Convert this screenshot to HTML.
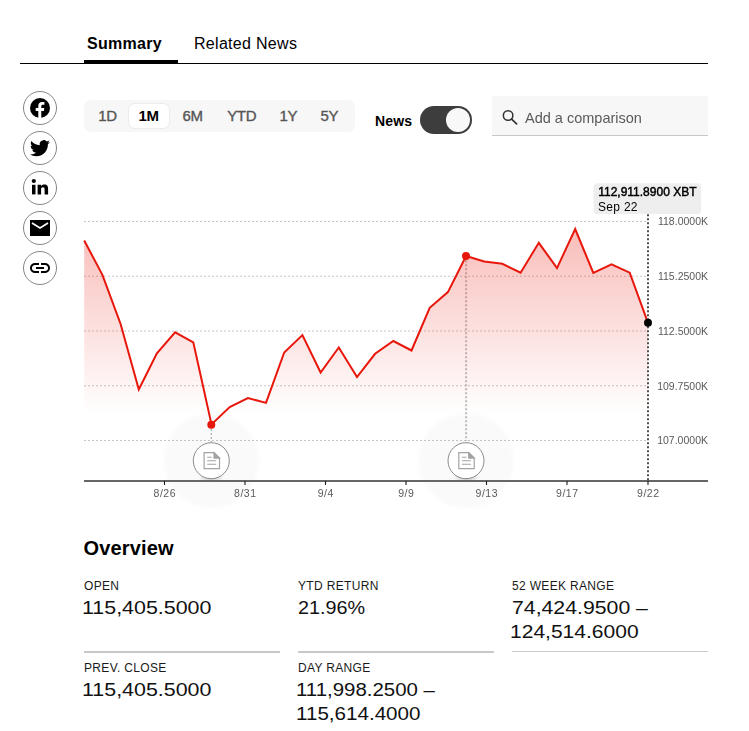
<!DOCTYPE html>
<html lang="en"><head><meta charset="utf-8"><title>XBT Summary</title>
<style>
html,body{margin:0;padding:0;background:#fff}
body{width:749px;height:731px;position:relative;overflow:hidden;font-family:"Liberation Sans",Arial,sans-serif;color:#000}
.abs{position:absolute;white-space:nowrap;line-height:1}
.tab{font-size:16px;top:36px;letter-spacing:.3px}
.rule{position:absolute;left:20px;width:688px;top:63px;height:1px;background:#000}
.rule2{position:absolute;left:84px;width:94px;top:60px;height:4px;background:#000}
.soc{position:absolute;left:23px;width:32px;height:32px;border:1px solid #868686;border-radius:50%;box-sizing:content-box}
.soc svg{position:absolute;left:0;top:0;width:32px;height:32px}
.ranges{position:absolute;left:84px;top:100px;width:271px;height:32px;background:#f7f7f7;border-radius:7px}
.ranges span{position:absolute;top:7.7px;font-size:15px;line-height:15px;color:#555;transform:translateX(-50%);white-space:nowrap;letter-spacing:-.3px;-webkit-text-stroke:.35px #555}
.ranges .sel{position:absolute;left:45px;top:4px;width:40px;height:24px;background:#fff;border-radius:6px;box-shadow:0 0 0 1px #ececec}
.ranges span.on{color:#000;font-weight:bold;-webkit-text-stroke:0}
.toggle{position:absolute;left:420px;top:106px;width:52px;height:28px;border-radius:14px;background:#3d3d3d}
.toggle i{position:absolute;right:2px;top:2px;width:24px;height:24px;border-radius:50%;background:#f8f8f8}
.search{position:absolute;left:492px;top:96px;width:216px;height:39px;background:#f7f7f7;border-bottom:1px solid #c8c8c8}
.lbl{font-size:12px;color:#1a1a1a;letter-spacing:.33px}
.val{font-size:18px;color:#111;transform-origin:0 50%}
.div{position:absolute;height:2px;background:#c8c8c8}
svg text{font-family:"Liberation Sans",Arial,sans-serif}
</style></head><body>

<div class="abs tab" style="left:87px;font-weight:bold">Summary</div>
<div class="abs tab" style="left:194px">Related News</div>
<div class="rule"></div><div class="rule2"></div>

<div class="soc" style="top:91px"><svg viewBox="0 0 32 32"><circle cx="16" cy="16" r="10" fill="#000"/><path transform="translate(0,1)" d="M17.3,25 V18.1 h2.6 l0.4,-3 h-3 v-1.9 c0,-0.9 0.3,-1.5 1.5,-1.5 h1.6 V9 c-0.3,0 -1.2,-0.1 -2.3,-0.1 c-2.3,0 -3.8,1.4 -3.8,3.9 v2.3 H11.7 v3 h2.6 V26 Z" fill="#fff"/></svg></div>
<div class="soc" style="top:131px"><svg viewBox="0 0 32 32"><path transform="translate(6,6.3) scale(0.83)" d="M23.953 4.57a10 10 0 01-2.825.775 4.958 4.958 0 002.163-2.723c-.951.555-2.005.959-3.127 1.184a4.92 4.92 0 00-8.384 4.482C7.69 8.095 4.067 6.13 1.64 3.162a4.822 4.822 0 00-.666 2.475c0 1.71.87 3.213 2.188 4.096a4.904 4.904 0 01-2.228-.616v.06a4.923 4.923 0 003.946 4.827 4.996 4.996 0 01-2.212.085 4.936 4.936 0 004.604 3.417 9.867 9.867 0 01-6.102 2.105c-.39 0-.779-.023-1.17-.067a13.995 13.995 0 007.557 2.209c9.053 0 13.998-7.496 13.998-13.985 0-.21 0-.42-.015-.63A9.935 9.935 0 0024 4.59z" fill="#000"/></svg></div>
<div class="soc" style="top:171px"><svg viewBox="0 0 32 32"><g fill="#000"><circle cx="9.8" cy="9" r="2.1"/><rect x="8" y="12.8" width="3.5" height="9.6"/><path d="M13.6,12.8 h3.4 v1.4 c0.6,-1 1.7,-1.7 3.4,-1.7 c3,0 3.7,2 3.7,4.6 v5.3 h-3.5 v-4.7 c0,-1.2 -0.1,-2.5 -1.7,-2.5 c-1.6,0 -1.8,1.2 -1.8,2.4 v4.8 h-3.5 Z"/></g></svg></div>
<div class="soc" style="top:211px"><svg viewBox="0 0 32 32"><rect x="6" y="8" width="20" height="16" fill="#000"/><path d="M8,11 L16,16 L24,11" fill="none" stroke="#fff" stroke-width="1.6"/></svg></div>
<div class="soc" style="top:251px"><svg viewBox="0 0 32 32"><path transform="translate(4,4)" fill="#000" d="M3.9 12c0-1.71 1.39-3.1 3.1-3.1h4V7H7c-2.76 0-5 2.24-5 5s2.24 5 5 5h4v-1.9H7c-1.71 0-3.1-1.39-3.1-3.1zM8 13h8v-2H8v2zm9-6h-4v1.9h4c1.71 0 3.1 1.39 3.1 3.1s-1.39 3.1-3.1 3.1h-4V17h4c2.76 0 5-2.24 5-5s-2.24-5-5-5z"/></svg></div>

<div class="ranges"><div class="sel"></div>
<span style="left:23.5px">1D</span><span class="on" style="left:64.7px">1M</span><span style="left:108.5px">6M</span><span style="left:157.7px">YTD</span><span style="left:204.4px">1Y</span><span style="left:245.3px">5Y</span></div>

<div class="abs" style="left:375px;top:113px;font-size:14px;font-weight:bold;line-height:16px;letter-spacing:.15px">News</div>
<div class="toggle"><i></i></div>
<div class="search"><svg style="position:absolute;left:10px;top:11.5px" width="17" height="17" viewBox="0 0 17 17"><circle cx="6.1" cy="7.5" r="4.75" fill="none" stroke="#333" stroke-width="1.5"/><path d="M9.6,11.1 L14.6,15.8" stroke="#333" stroke-width="1.7" stroke-linecap="round"/></svg>
<div class="abs" style="left:32.6px;top:13.9px;font-size:14.5px;color:#5a5a5a;line-height:17px;will-change:transform">Add a comparison</div></div>

<svg class="abs" style="left:0;top:0;will-change:transform" width="749" height="520" viewBox="0 0 749 520">
<defs>
<linearGradient id="ar" gradientUnits="userSpaceOnUse" x1="0" y1="226" x2="0" y2="414"><stop offset="0" stop-color="#e8170c" stop-opacity=".29"/><stop offset="1" stop-color="#e8170c" stop-opacity="0"/></linearGradient>
<radialGradient id="halo"><stop offset="0" stop-color="#000" stop-opacity=".019"/><stop offset=".9" stop-color="#000" stop-opacity=".018"/><stop offset="1" stop-color="#000" stop-opacity="0"/></radialGradient>
<radialGradient id="shd"><stop offset="0" stop-color="#000" stop-opacity=".22"/><stop offset="1" stop-color="#000" stop-opacity="0"/></radialGradient>
</defs>
<g stroke="#c6c6c6" stroke-width="1" stroke-dasharray="2 2"><line x1="84" x2="648" y1="221.5" y2="221.5"/><line x1="84" x2="648" y1="276.25" y2="276.25"/><line x1="84" x2="648" y1="331.0" y2="331.0"/><line x1="84" x2="648" y1="385.75" y2="385.75"/><line x1="84" x2="648" y1="440.5" y2="440.5"/></g>
<line x1="466.1" x2="466.1" y1="260.3" y2="441" stroke="#bcbcbc" stroke-width="2" stroke-dasharray="2 2"/>
<path d="M84.2,481 L84.2,240.5 L102.4,274.9 L120.6,324.0 L138.8,389.5 L156.9,353.4 L175.1,332.3 L193.3,342.3 L211.5,424.4 L229.7,407.0 L247.9,398.0 L266.0,402.9 L284.2,352.5 L302.4,335.1 L320.6,372.5 L338.8,347.5 L357.0,377.1 L375.1,353.8 L393.3,341.0 L411.5,350.5 L429.7,307.8 L447.9,292.1 L466.1,256.0 L484.2,261.5 L502.4,263.8 L520.6,272.7 L538.8,242.8 L557.0,268.1 L575.2,229.0 L593.3,272.8 L611.5,264.3 L629.7,272.7 L647.9,322.6 L647.9,481 Z" fill="url(#ar)"/>
<line x1="211.3" x2="211.3" y1="429" y2="442" stroke="#9a9a9a" stroke-width="1" stroke-dasharray="2 2"/>
<polyline points="84.2,240.5 102.4,274.9 120.6,324.0 138.8,389.5 156.9,353.4 175.1,332.3 193.3,342.3 211.5,424.4 229.7,407.0 247.9,398.0 266.0,402.9 284.2,352.5 302.4,335.1 320.6,372.5 338.8,347.5 357.0,377.1 375.1,353.8 393.3,341.0 411.5,350.5 429.7,307.8 447.9,292.1 466.1,256.0 484.2,261.5 502.4,263.8 520.6,272.7 538.8,242.8 557.0,268.1 575.2,229.0 593.3,272.8 611.5,264.3 629.7,272.7 647.9,322.6" fill="none" stroke="#e8170c" stroke-width="2" stroke-linejoin="miter"/>
<g transform="translate(211.3,460.7)">
<circle r="50" fill="url(#halo)"/>
<ellipse cx="0" cy="17" rx="13" ry="5" fill="url(#shd)"/>
<circle r="18" fill="#fff" stroke="#8a8a8a" stroke-width="1"/>
<g transform="translate(-7.8,-8.6)" fill="none" stroke="#a3a3a3" stroke-width="1.2">
<path d="M0.6,0.6 H10.5 L16,6 V16.6 H0.6 Z"/>
<path d="M10.5,0.6 L16,6 H10.5 Z" fill="#a3a3a3"/>
<path d="M3.7,5.2 H8.2 M3.7,8.7 H12.7 M3.7,12.2 H12.7" stroke-width="1.1"/>
</g></g>
<g transform="translate(466,460.7)">
<circle r="50" fill="url(#halo)"/>
<ellipse cx="0" cy="17" rx="13" ry="5" fill="url(#shd)"/>
<circle r="18" fill="#fff" stroke="#8a8a8a" stroke-width="1"/>
<g transform="translate(-7.8,-8.6)" fill="none" stroke="#a3a3a3" stroke-width="1.2">
<path d="M0.6,0.6 H10.5 L16,6 V16.6 H0.6 Z"/>
<path d="M10.5,0.6 L16,6 H10.5 Z" fill="#a3a3a3"/>
<path d="M3.7,5.2 H8.2 M3.7,8.7 H12.7 M3.7,12.2 H12.7" stroke-width="1.1"/>
</g></g>
<line x1="84" x2="708" y1="480.95" y2="480.95" stroke="#666" stroke-width="2"/>
<g stroke="#1a1a1a" stroke-width="1.1"><line x1="164.5" x2="164.5" y1="481" y2="485"/><line x1="245" x2="245" y1="481" y2="485"/><line x1="325.5" x2="325.5" y1="481" y2="485"/><line x1="406" x2="406" y1="481" y2="485"/><line x1="486.5" x2="486.5" y1="481" y2="485"/><line x1="567" x2="567" y1="481" y2="485"/><line x1="648" x2="648" y1="481" y2="485"/></g>
<circle cx="211.3" cy="424.7" r="4" fill="#e8170c"/>
<circle cx="466" cy="256.1" r="4" fill="#e8170c"/>
<line x1="648" x2="648" y1="214.3" y2="481" stroke="#505050" stroke-width="2" stroke-dasharray="2 2"/>
<circle cx="648" cy="322.8" r="4" fill="#000"/>
<rect x="593.5" y="183.3" width="107.6" height="30.6" rx="3.5" fill="#eeeeee"/>
<text x="598.2" y="196" font-size="12" fill="#000" stroke="#000" stroke-width=".45">112,911.8900 XBT</text>
<text x="598" y="211" font-size="12" fill="#000" letter-spacing=".3">Sep 22</text>
<g font-size="10.5" fill="#5a5a5a"><text x="708" y="225.30" text-anchor="end">118.0000K</text><text x="708" y="280.05" text-anchor="end">115.2500K</text><text x="708" y="334.80" text-anchor="end">112.5000K</text><text x="708" y="389.55" text-anchor="end">109.7500K</text><text x="708" y="444.30" text-anchor="end">107.0000K</text><text x="164.8" y="497" text-anchor="middle" letter-spacing=".5">8/26</text><text x="245.3" y="497" text-anchor="middle" letter-spacing=".5">8/31</text><text x="325.8" y="497" text-anchor="middle" letter-spacing=".5">9/4</text><text x="406.3" y="497" text-anchor="middle" letter-spacing=".5">9/9</text><text x="486.8" y="497" text-anchor="middle" letter-spacing=".5">9/13</text><text x="567.3" y="497" text-anchor="middle" letter-spacing=".5">9/17</text><text x="648.3" y="497" text-anchor="middle" letter-spacing=".5">9/22</text></g>
</svg>

<div class="abs" style="left:83.5px;top:538px;font-size:20px;font-weight:bold;line-height:20px;letter-spacing:.15px">Overview</div>

<div class="abs lbl" style="left:84px;top:580.2px">OPEN</div>
<div class="abs val" style="left:82.4px;top:599.4px;transform:scaleX(1.19)">115,405.5000</div>
<div class="abs lbl" style="left:298px;top:580.2px">YTD RETURN</div>
<div class="abs val" style="left:298px;top:599.4px;transform:scaleX(1.1)">21.96%</div>
<div class="abs lbl" style="left:512px;top:580.2px">52 WEEK RANGE</div>
<div class="abs val" style="left:512px;top:599.4px;transform:scaleX(1.181)">74,424.9500 –</div>
<div class="abs val" style="left:510.4px;top:623.4px;transform:scaleX(1.168)">124,514.6000</div>
<div class="div" style="left:84px;width:196px;top:651px"></div>
<div class="div" style="left:298px;width:196px;top:651px"></div>
<div class="div" style="left:512px;width:196px;top:651px;height:1px;background:#ccc"></div>
<div class="abs lbl" style="left:84px;top:662.2px">PREV. CLOSE</div>
<div class="abs val" style="left:82.4px;top:681.4px;transform:scaleX(1.19)">115,405.5000</div>
<div class="abs lbl" style="left:298px;top:662.2px">DAY RANGE</div>
<div class="abs val" style="left:296.4px;top:681.4px;transform:scaleX(1.135)">111,998.2500 –</div>
<div class="abs val" style="left:296.4px;top:705.4px;transform:scaleX(1.144)">115,614.4000</div>
</body></html>
